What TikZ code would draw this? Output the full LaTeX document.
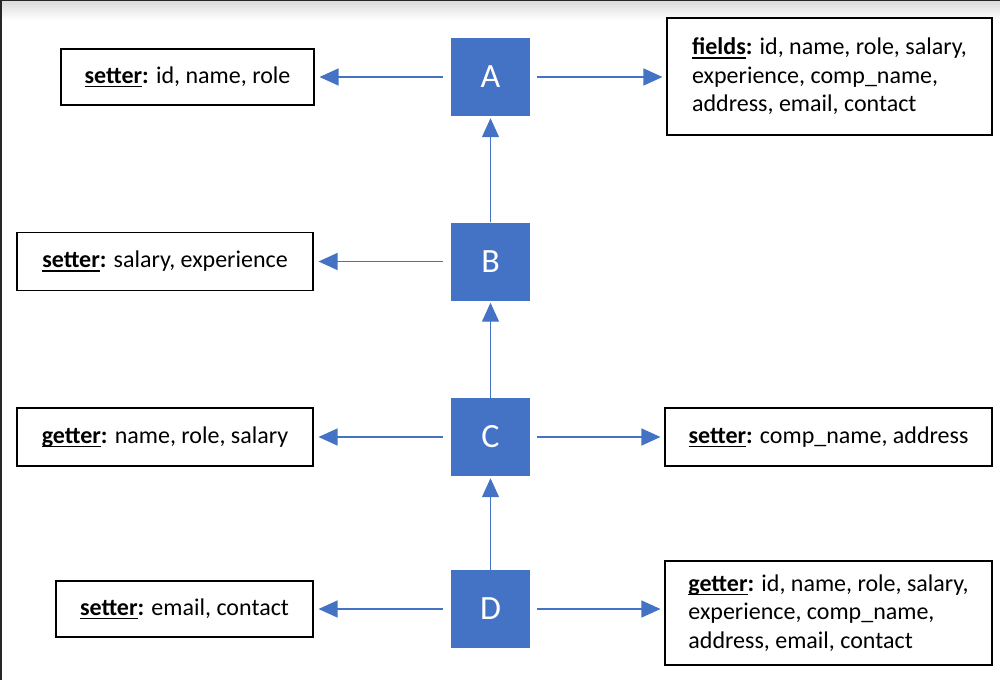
\documentclass[tikz,border=0pt]{standalone}
\usepackage{fontspec}
\setmainfont{Carlito}
\usetikzlibrary{arrows.meta}
\definecolor{obl}{HTML}{4472C4}
\newcommand\ulbf[1]{\setbox0\hbox{\textbf{#1}}\rlap{\rule[-3.8pt]{\wd0}{1.6pt}}\box0}
\begin{document}
\begin{tikzpicture}[x=1pt,y=1pt,
  sq/.style={fill=obl, minimum width=79pt, minimum height=78pt, inner sep=0pt, text=white, font=\fontsize{34}{40}\selectfont},
  box/.style={draw=black, line width=1.1pt, inner sep=0pt, font=\fontsize{24}{28.5}\selectfont, align=left},
  arr/.style={draw=obl, line width=1.3pt, -{Triangle[length=19pt,width=17pt]}}]
\useasboundingbox (0,-680) rectangle (1000,0);
\shade[top color=black!15, bottom color=white] (0,-20) rectangle (1000,0);
\fill[black!85] (0,-1.3) rectangle (1000,0);
\fill[black!85] (0,-680) rectangle (2,0);
% squares
\node[sq] (A) at (490.5,-77) {A};
\node[sq] (B) at (490.5,-261.5) {B};
\node[sq] (C) at (490.5,-437) {C};
\node[sq] (D) at (490.5,-609) {D};
% left boxes
\node[box, minimum width=253pt, minimum height=56pt] (la) at (187.5,-77) {\ulbf{setter}\textbf{:} id, name, role};
\node[box, minimum width=296pt, minimum height=58pt] (lb) at (165,-261.5) {\ulbf{setter}\textbf{:} salary, experience};
\node[box, minimum width=296pt, minimum height=58pt] (lc) at (165,-437) {\ulbf{getter}\textbf{:} name, role, salary};
\node[box, minimum width=257pt, minimum height=56pt] (ld) at (184.5,-609) {\ulbf{setter}\textbf{:} email, contact};
% right boxes
\node[box, minimum width=325pt, minimum height=117pt] (ra) at (829.5,-76.5) {\ulbf{fields}\textbf{:} id, name, role, salary,\\experience, comp\_name,\\address, email, contact};
\node[box, minimum width=327pt, minimum height=58pt] (rc) at (828.5,-437) {\ulbf{setter}\textbf{:} comp\_name, address};
\node[box, minimum width=327pt, minimum height=104pt] (rd) at (828.5,-613) {\ulbf{getter}\textbf{:} id, name, role, salary,\\experience, comp\_name,\\address, email, contact};
% horizontal arrows
\draw[arr] ([xshift=-8pt]A.west) -- ([xshift=5pt]A.west -| la.east);
\draw[arr] ([xshift=-8pt]B.west) -- ([xshift=5pt]B.west -| lb.east);
\draw[arr] ([xshift=-8pt]C.west) -- ([xshift=5pt]C.west -| lc.east);
\draw[arr] ([xshift=-8pt]D.west) -- ([xshift=5pt]D.west -| ld.east);
\draw[arr] ([xshift=7pt]A.east) -- ([xshift=-4pt]A.east -| ra.west);
\draw[arr] ([xshift=7pt]C.east) -- ([xshift=-4pt]C.east -| rc.west);
\draw[arr] ([xshift=7pt]D.east) -- ([xshift=-4pt]D.east -| rd.west);
% vertical arrows
\draw[arr] (B.north) -- ([yshift=-2pt]A.south);
\draw[arr] (C.north) -- ([yshift=-2pt]B.south);
\draw[arr] (D.north) -- ([yshift=-2pt]C.south);
\end{tikzpicture}
\end{document}
